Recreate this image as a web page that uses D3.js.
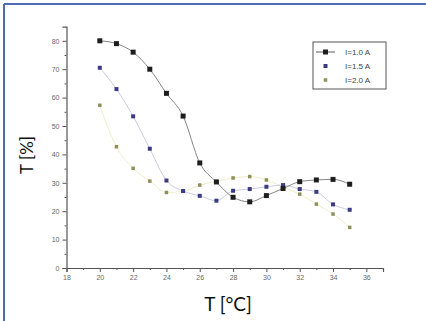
<!DOCTYPE html>
<html>
<head>
<meta charset="utf-8">
<script src="https://cdn.jsdelivr.net/npm/d3@7"></script>
<style>
  html, body { margin: 0; padding: 0; background: #fff; }
  svg { display: block; }
</style>
</head>
<body>
<svg id="chart" width="426" height="321"></svg>
<script>
// ---- data ----
const temps = [20, 21, 22, 23, 24, 25, 26, 27, 28, 29, 30, 31, 32, 33, 34, 35];
const seriesNames = ["I=1.0 A", "I=1.5 A", "I=2.0 A"];
const i10 = [80, 79, 76, 70, 61.5, 53.5, 37, 30.3, 24.9, 23.3, 25.5, 28, 30.4, 31, 31.2, 29.5];
const i15 = [70.5, 63, 53.4, 42, 30.8, 27.1, 25.4, 23.7, 27.2, 27.8, 28.6, 29.2, 27.8, 26.8, 22.4, 20.5];
const i20 = [57.3, 42.7, 35.1, 30.6, 26.6, 27, 29.2, 30.5, 31.7, 32.2, 31, 28.5, 26, 22.5, 19, 14.3];
const xTicks = [18, 20, 22, 24, 26, 28, 30, 32, 34, 36];
const yTicks = [0, 10, 20, 30, 40, 50, 60, 70, 80];

const svg = d3.select("#chart");

// frame (top + left border)
svg.append("line").attr("x1", 4).attr("y1", 4).attr("x2", 426).attr("y2", 4)
  .attr("stroke", "#4f6db0").attr("stroke-width", 2);
svg.append("line").attr("x1", 4).attr("y1", 4).attr("x2", 4).attr("y2", 321)
  .attr("stroke", "#4f6db0").attr("stroke-width", 2);

const x = d3.scaleLinear().domain([18, 37]).range([66.5, 383]);
const y = d3.scaleLinear().domain([0, 85]).range([268, 26.6]);

const axisColor = "#555";

// x axis
const xAxis = svg.append("g").attr("transform", `translate(0,${y(0)})`)
  .call(d3.axisBottom(x).tickValues(xTicks).tickSize(4).tickPadding(3).tickFormat(d3.format("d")));
svg.append("g").attr("transform", `translate(0,${y(0)})`)
  .call(d3.axisBottom(x).tickValues(d3.range(19, 37, 2)).tickSize(2).tickFormat(""))
  .call(g => g.select(".domain").remove());
// y axis
const yAxis = svg.append("g").attr("transform", `translate(${x(18)},0)`)
  .call(d3.axisLeft(y).tickValues(yTicks).tickSize(4).tickPadding(3).tickFormat(d3.format("d")));
svg.append("g").attr("transform", `translate(${x(18)},0)`)
  .call(d3.axisLeft(y).tickValues(d3.range(5, 85, 10)).tickSize(2).tickFormat(""))
  .call(g => g.select(".domain").remove());

svg.selectAll(".domain").attr("stroke", axisColor).attr("stroke-width", 1.2);
svg.selectAll(".tick line").attr("stroke", axisColor).attr("stroke-width", 1);
svg.selectAll(".tick text").attr("fill", "#666").attr("font-size", 7)
  .attr("font-family", "Arial, Liberation Sans, sans-serif");

// series
const series = [
  { name: seriesNames[0], vals: i10, color: "#1e1e1e", line: "#666", lw: 0.8, size: 5 },
  { name: seriesNames[1], vals: i15, color: "#3b3b85", line: "#a8a8d0", lw: 0.6, size: 4 },
  { name: seriesNames[2], vals: i20, color: "#8f8f5a", line: "#e2e2a6", lw: 0.6, size: 3.5 }
];

const lineGen = d3.line().x(d => x(d[0])).y(d => y(d[1])).curve(d3.curveMonotoneX);

series.slice().reverse().forEach(s => {
  const pts = temps.map((t, i) => [t, s.vals[i]]);
  svg.append("path").attr("d", lineGen(pts)).attr("fill", "none")
    .attr("stroke", s.line).attr("stroke-width", s.lw);
});
series.slice().reverse().forEach(s => {
  const pts = temps.map((t, i) => [t, s.vals[i]]);
  svg.append("g").selectAll("rect").data(pts).join("rect")
    .attr("x", d => x(d[0]) - s.size / 2).attr("y", d => y(d[1]) - s.size / 2)
    .attr("width", s.size).attr("height", s.size)
    .attr("fill", s.color);
});

// legend
const lg = svg.append("g").attr("transform", "translate(313,42)");
lg.append("rect").attr("width", 73).attr("height", 47).attr("fill", "#fff")
  .attr("stroke", "#555").attr("stroke-width", 1);
series.forEach((s, i) => {
  const cy = 10 + i * 14;
  if (i === 0) {
    lg.append("line").attr("x1", 3).attr("x2", 22).attr("y1", cy).attr("y2", cy)
      .attr("stroke", "#333").attr("stroke-width", 0.8);
  }
  lg.append("rect").attr("x", 12.5 - s.size / 2).attr("y", cy - s.size / 2)
    .attr("width", s.size).attr("height", s.size).attr("fill", s.color);
  lg.append("text").attr("x", 32).attr("y", cy + 3).text(s.name)
    .attr("font-size", 8).attr("fill", "#444")
    .attr("font-family", "Arial, Liberation Sans, sans-serif");
});

// axis titles
svg.append("text").attr("x", 228).attr("y", 311).attr("text-anchor", "middle")
  .attr("font-size", 19).attr("fill", "#111").attr("font-family", "Lato, sans-serif")
  .text("T [°C]");
svg.append("text").attr("transform", "translate(33,155) rotate(-90)")
  .attr("text-anchor", "middle")
  .attr("font-size", 17).attr("fill", "#111").attr("font-family", "Lato, sans-serif")
  .text("T [%]");
</script>
</body>
</html>
